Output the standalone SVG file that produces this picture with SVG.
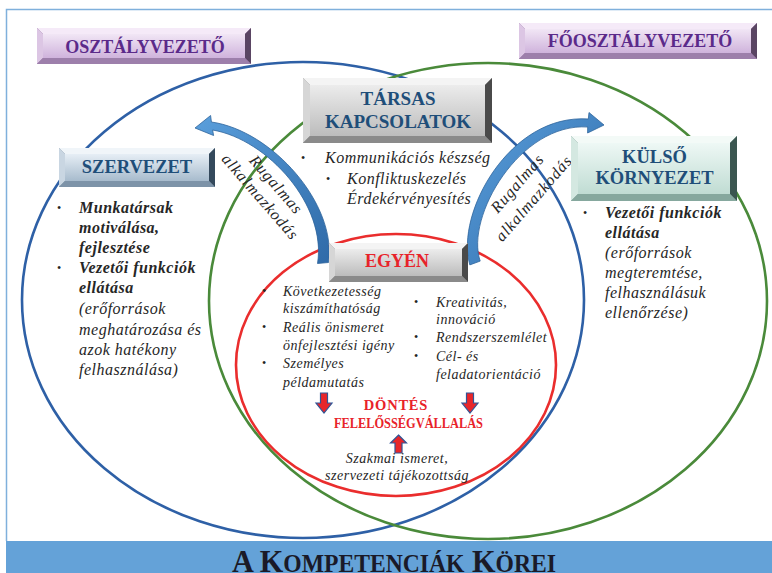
<svg xmlns="http://www.w3.org/2000/svg" width="772" height="573" viewBox="0 0 772 573">
<defs>
<linearGradient id="gFaceGray" x1="0" y1="0" x2="0" y2="1"><stop offset="0" stop-color="#ececec"/><stop offset="1" stop-color="#bcbcbc"/></linearGradient>
<linearGradient id="gFacePurple" x1="0" y1="0" x2="0" y2="1"><stop offset="0" stop-color="#f1e6f5"/><stop offset="1" stop-color="#cfb3dc"/></linearGradient>
<linearGradient id="gFaceBlue" x1="0" y1="0" x2="0" y2="1"><stop offset="0" stop-color="#e6eef5"/><stop offset="1" stop-color="#a7bbcd"/></linearGradient>
<linearGradient id="gFaceMint" x1="0" y1="0" x2="0" y2="1"><stop offset="0" stop-color="#eef8f5"/><stop offset="1" stop-color="#c0dcd3"/></linearGradient>
<linearGradient id="gArrow" x1="0" y1="0" x2="1" y2="1"><stop offset="0" stop-color="#5a9fdc"/><stop offset="1" stop-color="#2f6aa8"/></linearGradient>
<style>
.hd{font-family:"Liberation Serif","Times New Roman",serif;font-weight:bold;text-anchor:middle}
.it{font-family:"Liberation Serif","Times New Roman",serif;font-style:italic;font-size:16px;fill:#262626;letter-spacing:0.5px}
.bi{font-weight:bold}
.sm{font-size:14px}
.bul{font-family:"Liberation Serif","Times New Roman",serif;font-size:12px;fill:#262626}
.circ{fill:none;stroke-width:2.6}
.dn{fill:#e8262a;stroke:#2f5597;stroke-width:1.2}
.g-top{fill:#f4f4f4}.g-left{fill:#d6d6d6}.g-right{fill:#4a4a4a}.g-bot{fill:#8a8a8a}
.p-top{fill:#f5eaf8}.p-left{fill:#dcc6e4}.p-right{fill:#5a4563}.p-bot{fill:#9d7fab}
.b-top{fill:#f0f5f9}.b-left{fill:#c9d6e2}.b-right{fill:#34495c}.b-bot{fill:#7d93a8}
.m-top{fill:#f3faf7}.m-left{fill:#d4e8e1}.m-right{fill:#3b5650}.m-bot{fill:#86a89e}
</style>
</defs>
<rect width="772" height="573" fill="#ffffff"/>
<path d="M6.5,541 V9.5 H772" fill="none" stroke="#7fb0dc" stroke-width="1.5"/>

<g id="circles">
<ellipse class="circ" cx="303" cy="300" rx="281" ry="238" stroke="#2e60a6"/>
<ellipse class="circ" cx="488" cy="301" rx="279" ry="238" stroke="#4a8a3a"/>
<ellipse class="circ" cx="396" cy="365" rx="160" ry="131" stroke="#ea2d2d"/>
</g>

<g id="title">
<rect x="6" y="541" width="766" height="32" fill="#64a2d8"/>
<text x="394" y="572" textLength="324" lengthAdjust="spacingAndGlyphs" font-family="'Liberation Serif','Times New Roman',serif" font-weight="bold" font-size="32" fill="#1a1a28" text-anchor="middle">A K<tspan font-size="25">OMPETENCIÁK</tspan> K<tspan font-size="25">ÖREI</tspan></text>
</g>

<g id="connectors">
<path d="M328.5,262.5 C337,204 272,130.5 211.4,122 L210.6,115.5 L195,128 L213.6,135.5 L212.6,130 C268,139.5 327,206 317.5,263.5 Z" fill="url(#gArrow)" stroke="#2f649c" stroke-width="0.8"/>
<path d="M469.8,264.9 C455,213 510,113.5 588.3,119 L589,112.5 L604,125 L587.6,133 L587.7,127 C520,122.5 465,217 480.2,261.1 Z" fill="url(#gArrow)" stroke="#2f649c" stroke-width="0.8"/>
<polygon class="dn" points="320.5,393 327.5,393 327.5,403 332,403 324,413 316,403 320.5,403"/>
<polygon class="dn" points="466.5,393 473.5,393 473.5,403 478,403 470,413 462,403 466.5,403"/>
<polygon class="dn" points="398.5,435 406.5,443 402,443 402,453 395,453 395,443 390.5,443"/>
</g>

<g id="rugalmas-left" class="it" style="letter-spacing:1px" text-anchor="middle">
<text x="272.2" y="188.3" transform="rotate(49 272.2 188.3)">Rugalmas</text>
<text x="256.2" y="200.3" transform="rotate(49 256.2 200.3)">alkalmazkodás</text>
</g>
<g id="rugalmas-right" class="it" style="letter-spacing:1px" text-anchor="middle">
<text x="521.3" y="186.8" transform="rotate(-49 521.3 186.8)">Rugalmas</text>
<text x="537.8" y="201.8" transform="rotate(-49 537.8 201.8)">alkalmazkodás</text>
</g>

<g id="osztalyvezeto">
<rect x="37" y="28" width="214" height="36" fill="#8a6c98"/>
<polygon class="p-top" points="37,28 251,28 245,34 43,34"/>
<polygon class="p-left" points="37,28 43,34 43,58 37,64"/>
<polygon class="p-right" points="251,28 251,64 245,58 245,34"/>
<polygon class="p-bot" points="37,64 251,64 245,58 43,58"/>
<rect x="43" y="34" width="202" height="24" fill="url(#gFacePurple)"/>
<text class="hd" x="145" y="53" font-size="18" fill="#5b2a8a">OSZTÁLYVEZETŐ</text>
</g>

<g id="foosztalyvezeto">
<rect x="519" y="23" width="238" height="36" fill="#8a6c98"/>
<polygon class="p-top" points="519,23 757,23 751,29 525,29"/>
<polygon class="p-left" points="519,23 525,29 525,53 519,59"/>
<polygon class="p-right" points="757,23 757,59 751,53 751,29"/>
<polygon class="p-bot" points="519,59 757,59 751,53 525,53"/>
<rect x="525" y="29" width="226" height="24" fill="url(#gFacePurple)"/>
<text class="hd" x="640" y="47" font-size="18" fill="#5b2a8a">FŐOSZTÁLYVEZETŐ</text>
</g>

<g id="tarsas">
<rect x="303" y="78" width="189" height="65" fill="#888"/>
<polygon class="g-top" points="303,78 492,78 485,85 310,85"/>
<polygon class="g-left" points="303,78 310,85 310,136 303,143"/>
<polygon class="g-right" points="492,78 492,143 485,136 485,85"/>
<polygon class="g-bot" points="303,143 492,143 485,136 310,136"/>
<rect x="310" y="85" width="175" height="51" fill="url(#gFaceGray)"/>
<text class="hd" x="398" y="105" font-size="19" fill="#1f4e79">TÁRSAS</text>
<text class="hd" x="398" y="128" font-size="19" fill="#1f4e79">KAPCSOLATOK</text>
</g>
<g id="tarsas-text">
<text class="bul" x="301" y="162">•</text>
<text class="it" x="325" y="163">Kommunikációs készség</text>
<text class="bul" x="326" y="183">•</text>
<text class="it" x="347" y="184">Konfliktuskezelés</text>
<text class="it" x="347" y="204">Érdekérvényesítés</text>
</g>

<g id="szervezet">
<rect x="59" y="148" width="156" height="39" fill="#6d8296"/>
<polygon class="b-top" points="59,148 215,148 209,154 65,154"/>
<polygon class="b-left" points="59,148 65,154 65,181 59,187"/>
<polygon class="b-right" points="215,148 215,187 209,181 209,154"/>
<polygon class="b-bot" points="59,187 215,187 209,181 65,181"/>
<rect x="65" y="154" width="144" height="27" fill="url(#gFaceBlue)"/>
<text class="hd" x="137" y="173" font-size="18.5" fill="#1f4e79">SZERVEZET</text>
</g>
<g id="szervezet-text">
<text class="bul" x="57" y="212">•</text>
<text class="it bi" x="79" y="213">Munkatársak</text>
<text class="it bi" x="79" y="233">motiválása,</text>
<text class="it bi" x="79" y="253">fejlesztése</text>
<text class="bul" x="57" y="272">•</text>
<text class="it bi" x="79" y="273">Vezetői funkciók</text>
<text class="it bi" x="79" y="293">ellátása</text>
<text class="it" x="79" y="314">(erőforrások</text>
<text class="it" x="79" y="335">meghatározása és</text>
<text class="it" x="79" y="355">azok hatékony</text>
<text class="it" x="79" y="375">felhasználása)</text>
</g>

<g id="kulso">
<rect x="571" y="136" width="166" height="65" fill="#6f8f86"/>
<polygon class="m-top" points="571,136 737,136 730,143 578,143"/>
<polygon class="m-left" points="571,136 578,143 578,194 571,201"/>
<polygon class="m-right" points="737,136 737,201 730,194 730,143"/>
<polygon class="m-bot" points="571,201 737,201 730,194 578,194"/>
<rect x="578" y="143" width="152" height="51" fill="url(#gFaceMint)"/>
<text class="hd" x="654.5" y="163" font-size="18.5" fill="#1f4e79">KÜLSŐ</text>
<text class="hd" x="654.5" y="184" font-size="18.5" fill="#1f4e79">KÖRNYEZET</text>
</g>
<g id="kulso-text">
<text class="bul" x="583" y="217">•</text>
<text class="it bi" x="605" y="218">Vezetői funkciók</text>
<text class="it bi" x="605" y="238">ellátása</text>
<text class="it" x="605" y="258">(erőforrások</text>
<text class="it" x="605" y="278">megteremtése,</text>
<text class="it" x="605" y="298">felhasználásuk</text>
<text class="it" x="605" y="318">ellenőrzése)</text>
</g>

<g id="egyen">
<rect x="329" y="243" width="139" height="39" fill="#888"/>
<polygon class="g-top" points="329,243 468,243 462,249 335,249"/>
<polygon class="g-left" points="329,243 335,249 335,276 329,282"/>
<polygon class="g-right" points="468,243 468,282 462,276 462,249"/>
<polygon class="g-bot" points="329,282 468,282 462,276 335,276"/>
<rect x="335" y="249" width="127" height="27" fill="url(#gFaceGray)"/>
<text class="hd" x="397" y="267" font-size="18" fill="#e8232a">EGYÉN</text>
</g>
<g id="egyen-text">
<text class="bul" x="262" y="295">•</text>
<text class="it sm" x="283" y="296">Következetesség</text>
<text class="it sm" x="283" y="313">kiszámíthatóság</text>
<text class="bul" x="262" y="331">•</text>
<text class="it sm" x="283" y="332">Reális önismeret</text>
<text class="it sm" x="283" y="350">önfejlesztési igény</text>
<text class="bul" x="262" y="367">•</text>
<text class="it sm" x="283" y="368">Személyes</text>
<text class="it sm" x="283" y="387">példamutatás</text>
<text class="bul" x="414" y="306">•</text>
<text class="it sm" x="436" y="307">Kreativitás,</text>
<text class="it sm" x="436" y="324">innováció</text>
<text class="bul" x="414" y="341">•</text>
<text class="it sm" x="436" y="342">Rendszerszemlélet</text>
<text class="bul" x="414" y="360">•</text>
<text class="it sm" x="436" y="361">Cél- és</text>
<text class="it sm" x="436" y="379">feladatorientáció</text>
<text class="hd" x="396" y="410" font-size="14.5" fill="#e8232a" style="letter-spacing:0.8px">DÖNTÉS</text>
<text class="hd" x="408.5" y="428" font-size="14" fill="#e8232a" textLength="149" lengthAdjust="spacingAndGlyphs" text-anchor="middle">FELELŐSSÉGVÁLLALÁS</text>
<text class="it sm" x="397" y="463" text-anchor="middle">Szakmai ismeret,</text>
<text class="it sm" x="397" y="480" text-anchor="middle">szervezeti tájékozottság</text>
</g>
</svg>
